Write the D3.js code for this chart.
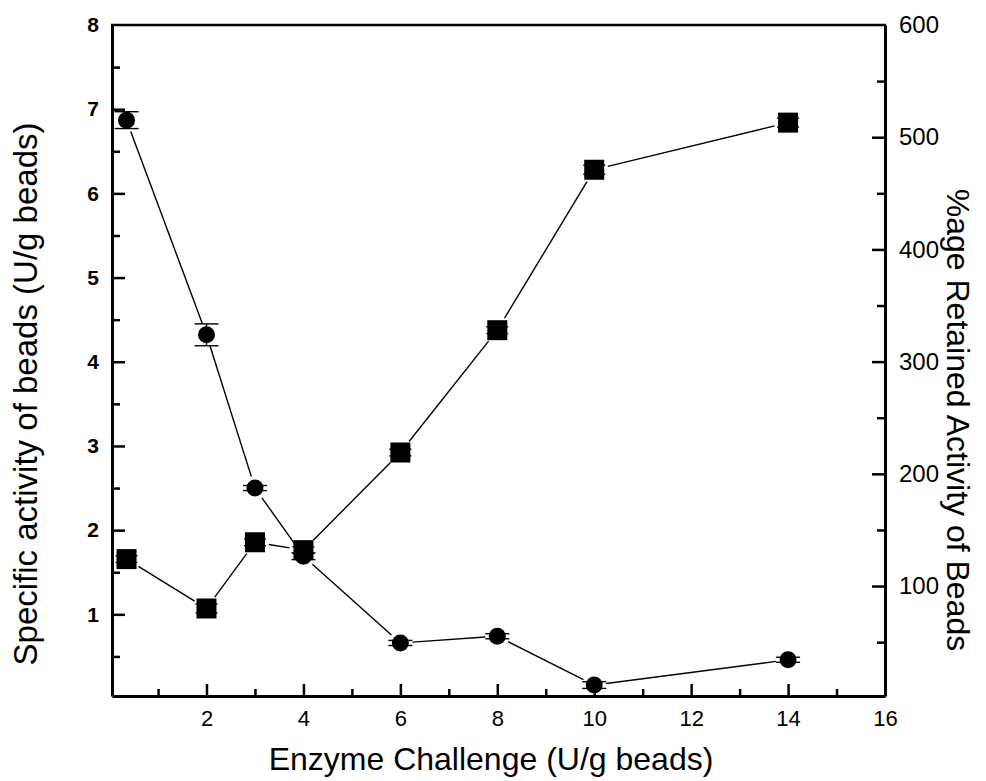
<!DOCTYPE html>
<html>
<head>
<meta charset="utf-8">
<script src="https://cdn.jsdelivr.net/npm/d3@7/dist/d3.min.js"></script>
<style>
  html, body { margin: 0; padding: 0; background: #fff; }
  svg { display: block; font-family: "Liberation Sans", Arial, sans-serif; }
</style>
</head>
<body>
<svg id="chart" width="986" height="781"></svg>
<script>
// Enzyme challenge (U/g beads)
const challenge = [0.35, 2, 3, 4, 6, 8, 10, 14];
// Specific activity of beads (U/g beads), left axis
const activity = [6.87, 4.32, 2.50, 1.69, 0.66, 0.74, 0.16, 0.46];
const activityErr = [0.10, 0.13, 0.03, 0.04, 0.03, 0.03, 0.04, 0.03];
// Retained activity of beads (%), right axis
const retained = [124, 80, 139, 132, 219, 328, 471, 513];
const retainedErr = [3, 4, 3, 3, 3, 3, 4, 4];

// Axis ticks
const xMajor = [2, 4, 6, 8, 10, 12, 14, 16];
const xMinor = [1, 3, 5, 7, 9, 11, 13, 15];
const leftMajor = [1, 2, 3, 4, 5, 6, 7, 8];
const leftMinor = [0.5, 1.5, 2.5, 3.5, 4.5, 5.5, 6.5, 7.5];
const rightMajor = [100, 200, 300, 400, 500, 600];
const rightMinor = [50, 150, 250, 350, 450, 550];

const svg = d3.select("#chart");
const L = 112, R = 885, T = 25, B = 696;

const x = d3.scaleLinear().domain([0.05, 16]).range([L, R]);
const yL = d3.scaleLinear().domain([0.03, 8]).range([B, T]);
const yR = d3.scaleLinear().domain([2, 600]).range([B, T]);

// Bottom axis: ticks point into the plot
const xAxis = d3.axisBottom(x).tickValues(xMajor).tickSizeInner(-12).tickSizeOuter(0).tickPadding(14).tickFormat(d3.format("d"));
const gx = svg.append("g").attr("transform", `translate(0,${B})`).call(xAxis);
gx.selectAll(".tick").filter(d => d === 16).select("line").remove();
const gxm = svg.append("g").attr("transform", `translate(0,${B})`)
  .call(d3.axisBottom(x).tickValues(xMinor).tickSizeInner(-7).tickSizeOuter(0).tickFormat(""));
gxm.select(".domain").remove();

// Left axis
const leftAxis = d3.axisLeft(yL).tickValues(leftMajor).tickSizeInner(-13).tickSizeOuter(0).tickPadding(13).tickFormat(d3.format("d"));
const gl = svg.append("g").attr("transform", `translate(${L},0)`).call(leftAxis);
gl.selectAll(".tick").filter(d => d === 8).select("line").remove();
const glm = svg.append("g").attr("transform", `translate(${L},0)`)
  .call(d3.axisLeft(yL).tickValues(leftMinor).tickSizeInner(-8).tickSizeOuter(0).tickFormat(""));
glm.select(".domain").remove();

// Right axis
const rightAxis = d3.axisRight(yR).tickValues(rightMajor).tickSizeInner(-13).tickSizeOuter(0).tickPadding(14).tickFormat(d3.format("d"));
const gr = svg.append("g").attr("transform", `translate(${R},0)`).call(rightAxis);
gr.selectAll(".tick").filter(d => d === 600).select("line").remove();
const grm = svg.append("g").attr("transform", `translate(${R},0)`)
  .call(d3.axisRight(yR).tickValues(rightMinor).tickSizeInner(-8).tickSizeOuter(0).tickFormat(""));
grm.select(".domain").remove();

// Top frame line
svg.append("line").attr("x1", L - 1).attr("x2", R + 1).attr("y1", T).attr("y2", T)
  .attr("stroke", "#000").attr("stroke-width", 2.5);

svg.selectAll(".domain").attr("stroke", "#000").attr("stroke-width", 3);
svg.selectAll(".tick line").attr("stroke", "#000").attr("stroke-width", 2.5);
[gx, gl, gr].forEach(g => g.attr("font-size", null).attr("font-family", null));
svg.selectAll(".tick text").style("fill", "#000")
  .style("font-family", "'Liberation Sans', Arial, sans-serif");
gx.selectAll(".tick text").style("font-size", "22px");
gr.selectAll(".tick text").style("font-size", "24px");
gl.selectAll(".tick text").style("font-weight", "bold").style("font-size", "21px");

// Axis titles
svg.append("text").attr("x", 491).attr("y", 770).attr("text-anchor", "middle")
  .style("font-size", "32px").text("Enzyme Challenge (U/g beads)");
svg.append("text").attr("transform", "translate(37,394) rotate(-90)").attr("text-anchor", "middle")
  .style("font-size", "33px").text("Specific activity of beads (U/g beads)");
svg.append("text").attr("transform", "translate(947,420) rotate(90)").attr("text-anchor", "middle")
  .style("font-size", "32px").text("%age Retained Activity of Beads");

// Connecting lines with small gaps at each marker
function gappedSegments(xs, ys, sx, sy, gap) {
  const segs = [];
  for (let i = 0; i < xs.length - 1; i++) {
    const x1 = sx(xs[i]), y1 = sy(ys[i]), x2 = sx(xs[i + 1]), y2 = sy(ys[i + 1]);
    const len = Math.hypot(x2 - x1, y2 - y1);
    if (len <= 2 * gap) continue;
    const ux = (x2 - x1) / len, uy = (y2 - y1) / len;
    segs.push([x1 + ux * gap, y1 + uy * gap, x2 - ux * gap, y2 - uy * gap]);
  }
  return segs;
}

const lines = svg.append("g").attr("stroke", "#000").attr("stroke-width", 1.4);
gappedSegments(challenge, activity, x, yL, 12).forEach(s =>
  lines.append("line").attr("x1", s[0]).attr("y1", s[1]).attr("x2", s[2]).attr("y2", s[3]));
gappedSegments(challenge, retained, x, yR, 14).forEach(s =>
  lines.append("line").attr("x1", s[0]).attr("y1", s[1]).attr("x2", s[2]).attr("y2", s[3]));

// Error bars
function errorBars(vals, errs, sy, cap) {
  const g = svg.append("g").attr("stroke", "#000").attr("stroke-width", 1.4);
  challenge.forEach((c, i) => {
    const cx = x(c), top = sy(vals[i] + errs[i]), bot = sy(vals[i] - errs[i]);
    g.append("line").attr("x1", cx).attr("x2", cx).attr("y1", top).attr("y2", bot);
    g.append("line").attr("x1", cx - cap).attr("x2", cx + cap).attr("y1", top).attr("y2", top);
    g.append("line").attr("x1", cx - cap).attr("x2", cx + cap).attr("y1", bot).attr("y2", bot);
  });
}
errorBars(activity, activityErr, yL, 12);
errorBars(retained, retainedErr, yR, 11);

// Markers
svg.append("g").selectAll("circle").data(challenge).join("circle")
  .attr("cx", d => x(d)).attr("cy", (d, i) => yL(activity[i])).attr("r", 8.5).attr("fill", "#000");
svg.append("g").selectAll("rect.sq").data(challenge).join("rect").attr("class", "sq")
  .attr("x", d => x(d) - 10).attr("y", (d, i) => yR(retained[i]) - 10)
  .attr("width", 20).attr("height", 20).attr("fill", "#000");
</script>
</body>
</html>
